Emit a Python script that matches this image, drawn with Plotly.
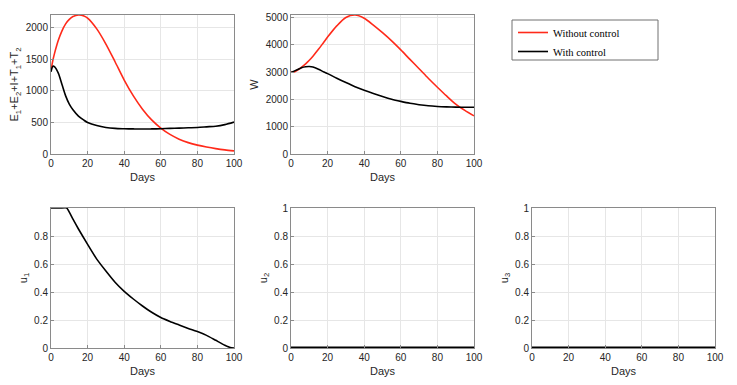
import plotly.graph_objects as go

# --- data ---
days = [0, 1, 2, 4, 6, 8, 10, 12, 15, 18, 20, 25, 30, 35, 40, 45, 50, 55, 60, 65, 70,
        75, 80, 85, 90, 95, 100]

# E1+E2+I+T1+T2
infected_no_ctrl = [1320, 1480, 1600, 1800, 1950, 2060, 2130, 2175, 2200, 2185, 2150, 1980,
                    1740, 1460, 1170, 920, 710, 540, 410, 310, 235, 180, 140, 110, 85, 65, 50]
infected_ctrl = [1300, 1390, 1380, 1280, 1100, 920, 790, 700, 600, 535, 500, 450, 420, 405,
                 400, 397, 395, 397, 400, 405, 410, 415, 420, 430, 440, 465, 505]

# W
w_no_ctrl = [3000, 3005, 3020, 3100, 3200, 3310, 3440, 3590, 3840, 4110, 4290, 4700, 5010,
             5100, 4980, 4730, 4450, 4150, 3820, 3470, 3130, 2780, 2450, 2130, 1830, 1600, 1400]
w_ctrl = [3000, 3020, 3050, 3110, 3170, 3200, 3210, 3190, 3110, 3010, 2950, 2780, 2620, 2470,
          2340, 2220, 2110, 2010, 1930, 1860, 1810, 1770, 1745, 1730, 1720, 1715, 1715]

# controls
days_u1 = [0, 5, 8.6, 10, 12, 15, 20, 25, 30, 35, 40, 45, 50, 55, 60, 65, 70, 75, 80, 85,
           90, 95, 98, 100]
u1 = [1, 1, 1, 0.97, 0.92, 0.85, 0.74, 0.635, 0.55, 0.47, 0.405, 0.35, 0.3, 0.255, 0.218,
      0.19, 0.165, 0.14, 0.117, 0.09, 0.055, 0.02, 0.003, 0]
days_u = [0, 100]
u2 = [0, 0]
u3 = [0, 0]

RED = '#ff2a1a'
BLACK = '#000000'
AX = '#8a8a8a'
GRID = '#e6e6e6'
TXT = '#262626'

fig = go.Figure()

fig.add_trace(go.Scatter(x=days, y=infected_no_ctrl, mode='lines', name='Without control',
                         line=dict(color=RED, width=1.6, shape='spline', smoothing=0.8),
                         xaxis='x', yaxis='y'))
fig.add_trace(go.Scatter(x=days, y=infected_ctrl, mode='lines', name='With control',
                         line=dict(color=BLACK, width=1.6, shape='spline', smoothing=0.8),
                         xaxis='x', yaxis='y'))
fig.add_trace(go.Scatter(x=days, y=w_no_ctrl, mode='lines', showlegend=False,
                         line=dict(color=RED, width=1.6, shape='spline', smoothing=0.8),
                         xaxis='x2', yaxis='y2'))
fig.add_trace(go.Scatter(x=days, y=w_ctrl, mode='lines', showlegend=False,
                         line=dict(color=BLACK, width=1.6, shape='spline', smoothing=0.8),
                         xaxis='x2', yaxis='y2'))
fig.add_trace(go.Scatter(x=days_u1, y=u1, mode='lines', showlegend=False,
                         line=dict(color=BLACK, width=1.6, shape='spline', smoothing=0.5),
                         xaxis='x3', yaxis='y3'))
fig.add_trace(go.Scatter(x=days_u, y=u2, mode='lines', showlegend=False,
                         line=dict(color=BLACK, width=3), xaxis='x4', yaxis='y4'))
fig.add_trace(go.Scatter(x=days_u, y=u3, mode='lines', showlegend=False,
                         line=dict(color=BLACK, width=3), xaxis='x5', yaxis='y5'))

# page has an 8px body margin, so the figure is shrunk and positions shifted
OFF = 8
W, H = 737 - 2 * OFF, 385 - 2 * OFF


def px_x(p):
    return (p - OFF) / W


def px_y(p):
    return 1 - (p - OFF) / H


cols = [(51, 234), (291, 474), (532, 715)]
top = (px_y(154), px_y(15))
bot = (px_y(348), px_y(208))

tickfont = dict(family='Liberation Sans, Arial', size=10, color=TXT)
titlefont = dict(family='Liberation Sans, Arial', size=11, color=TXT)


def xax(col, anchor):
    return dict(domain=[px_x(cols[col][0]), px_x(cols[col][1])], anchor=anchor,
                range=[0, 100], tickvals=[0, 20, 40, 60, 80, 100], automargin=False,
                showgrid=True, gridcolor=GRID, zeroline=False,
                showline=True, linecolor=AX, linewidth=1, mirror=True,
                ticks='inside', ticklen=3, tickcolor=AX, tickfont=tickfont,
                title=dict(text='Days', font=titlefont, standoff=5))


def yax(dom, anchor, rng, tv, title):
    return dict(domain=list(dom), anchor=anchor, range=rng, tickvals=tv, automargin=False,
                showgrid=True, gridcolor=GRID, zeroline=False,
                showline=True, linecolor=AX, linewidth=1, mirror=True,
                ticks='inside', ticklen=3, tickcolor=AX, tickfont=tickfont,
                title=dict(text=title, font=titlefont, standoff=4))


fig.update_layout(
    width=W, height=H,
    margin=dict(l=0, r=0, t=0, b=0),
    paper_bgcolor='white', plot_bgcolor='white',
    xaxis=xax(0, 'y'),
    yaxis=yax(top, 'x', [0, 2200], [0, 500, 1000, 1500, 2000],
              'E<sub>1</sub>+E<sub>2</sub>+I+T<sub>1</sub>+T<sub>2</sub>'),
    xaxis2=xax(1, 'y2'),
    yaxis2=yax(top, 'x2', [0, 5100], [0, 1000, 2000, 3000, 4000, 5000], 'W'),
    xaxis3=xax(0, 'y3'),
    yaxis3=yax(bot, 'x3', [0, 1], [0, 0.2, 0.4, 0.6, 0.8], 'u<sub>1</sub>'),
    xaxis4=xax(1, 'y4'),
    yaxis4=yax(bot, 'x4', [0, 1], [0, 0.2, 0.4, 0.6, 0.8, 1], 'u<sub>2</sub>'),
    xaxis5=xax(2, 'y5'),
    yaxis5=yax(bot, 'x5', [0, 1], [0, 0.2, 0.4, 0.6, 0.8, 1], 'u<sub>3</sub>'),
    showlegend=True,
    legend=dict(x=px_x(513), y=px_y(18), xanchor='left', yanchor='top',
                bgcolor='rgba(0,0,0,0)', borderwidth=0,
                font=dict(family='Liberation Serif, Times New Roman', size=10.5, color='black'),
                tracegroupgap=0, itemwidth=30),
)

# legend frame as drawn in the reference
fig.add_shape(type='rect', xref='paper', yref='paper',
              x0=px_x(512), x1=px_x(658), y0=px_y(60), y1=px_y(20),
              line=dict(color='#707070', width=1), fillcolor='rgba(0,0,0,0)')

fig.write_html("out.html")
